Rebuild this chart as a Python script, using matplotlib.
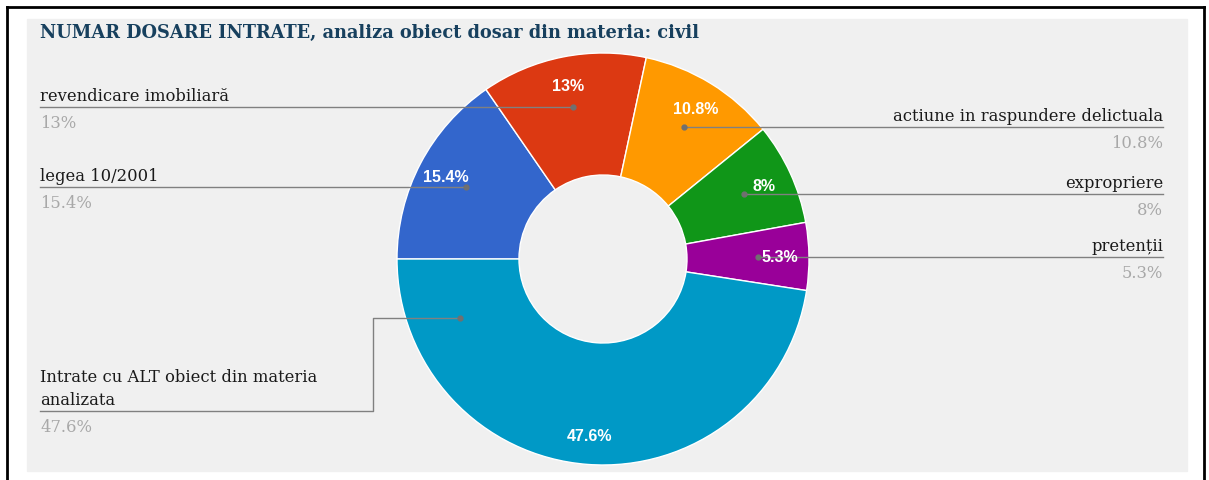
import numpy as np
import matplotlib.pyplot as plt

# data
labels = ['legea 10/2001', 'revendicare imobiliară', 'actiune in raspundere delictuala',
          'expropriere', 'pretenții', 'Intrate cu ALT obiect din materia\nanalizata']
values = [15.4, 13, 10.8, 8, 5.3, 47.6]
pct_text = ['15.4%', '13%', '10.8%', '8%', '5.3%', '47.6%']
colors = ['#3366cc', '#dc3912', '#ff9900', '#109618', '#990099', '#0099c6']
title = 'NUMAR DOSARE INTRATE, analiza obiect dosar din materia: civil'

# layout (image pixels, y measured from the top)
W, H = 1209, 481
cx, cy, R, r_in = 603, 260, 206, 84
side = ['left', 'left', 'right', 'right', 'right', 'left']
anchor_angle = [None, None, None, None, None, -157.5]
elbow = [None, None, None, None, None, (373, 412)]

SERIF = 'DejaVu Serif'
SANS = 'Liberation Sans'


def Y(y):
    return H - y


fig = plt.figure(figsize=(W / 100, H / 100), dpi=100)
ax = fig.add_axes([0, 0, 1, 1])

# panel + border
ax.add_patch(plt.Rectangle((27, Y(472)), 1187 - 27, 472 - 20, color='#f0f0f0', zorder=0))
ax.plot([7, 7], [0, Y(8)], color='black', lw=2, zorder=0)
ax.plot([7, 1204], [Y(8), Y(8)], color='black', lw=2, zorder=0)
ax.plot([1204, 1204], [0, Y(8)], color='black', lw=2, zorder=0)

wedges, _ = ax.pie(values, colors=colors, startangle=180, counterclock=False,
                   center=(cx, Y(cy)), radius=R,
                   wedgeprops=dict(width=R - r_in, edgecolor='white', linewidth=1))

for i, w in enumerate(wedges):
    mid = np.deg2rad((w.theta1 + w.theta2) / 2)
    # slice label
    ax.text(cx + 177 * np.cos(mid), Y(cy) + 177 * np.sin(mid), pct_text[i],
            color='white', fontsize=11.5, family=SANS, fontweight='bold',
            ha='center', va='center', zorder=5)
    # leader line
    a = mid if anchor_angle[i] is None else np.deg2rad(anchor_angle[i])
    dx, dy = cx + 155 * np.cos(a), Y(cy) + 155 * np.sin(a)
    if side[i] == 'left':
        if elbow[i] is None:
            ly = dy
            xs, ys = [dx, 40], [dy, ly]
        else:
            ex, ey = elbow[i]
            ly = Y(ey)
            xs, ys = [dx, ex, ex, 40], [dy, dy, ly, ly]
        tx, ha = 40, 'left'
    else:
        ly = dy
        xs, ys = [dx, 1163], [dy, ly]
        tx, ha = 1163, 'right'
    ax.plot(xs, ys, color='#808080', lw=1, zorder=4)
    ax.plot(dx, dy, 'o', color='#707070', ms=3.5, zorder=4)
    ax.text(tx, ly + 3, labels[i], ha=ha, va='bottom', fontsize=11.8,
            family=SERIF, color='#1a1a1a', linespacing=1.45)
    ax.text(tx, ly - 7, pct_text[i], ha=ha, va='top', fontsize=11.8,
            family=SERIF, color='#a8a8a8')

ax.text(40, Y(33), title, ha='left', va='center', fontsize=12.8,
        family=SERIF, fontweight='bold', color='#17405e')

ax.set_xlim(0, W)
ax.set_ylim(0, H)
ax.set_aspect('auto')
ax.axis('off')
fig.savefig('out.png', dpi=100)
